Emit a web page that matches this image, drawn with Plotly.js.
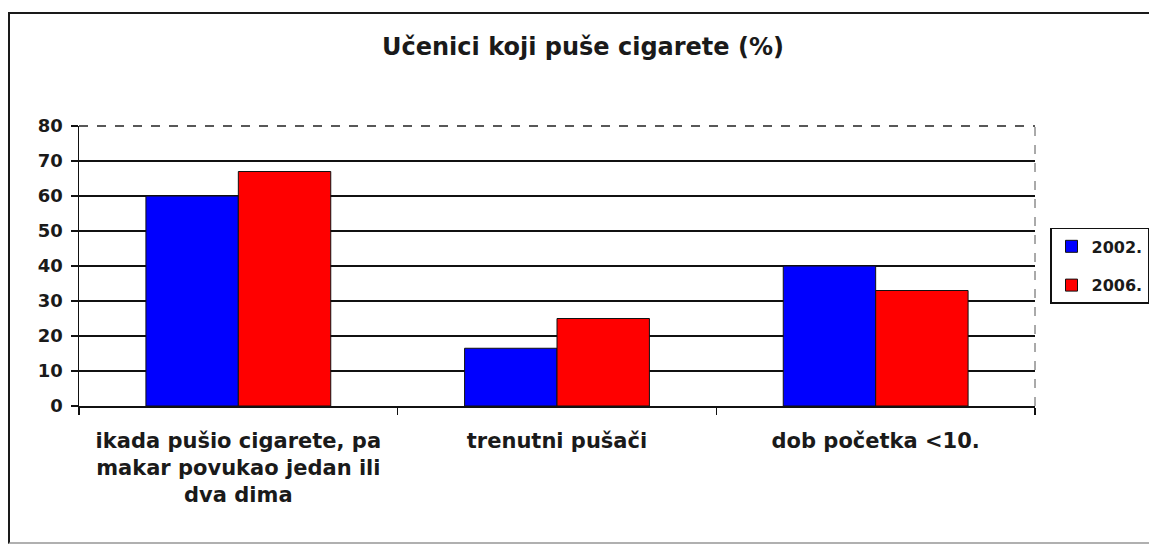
<!DOCTYPE html>
<html>
<head>
<meta charset="utf-8">
<script src="https://cdn.plot.ly/plotly-3.0.1.min.js"></script>
<style>
  html, body { margin: 0; padding: 0; background: #fff; overflow: hidden; }
  #wrap { position: relative; width: 1149px; height: 545px; overflow: hidden; }
  #chart { width: 1149px; height: 545px; }
  #frame { position: absolute; left: 8px; top: 12px; width: 1200px; height: 528px;
           border-left: 2px solid #1a1a1a; border-top: 2px solid #1a1a1a;
           border-bottom: 2px solid #b0b0b0; pointer-events: none; }
</style>
</head>
<body>
<div id="wrap">
  <div id="chart"></div>
  <div id="frame"></div>
</div>
<script>
const categories = [
  "ikada pušio cigarete, pa<br>makar povukao jedan ili<br>dva dima",
  "trenutni pušači",
  "dob početka <10."
];
const seriesNames = ["2002.", "2006."];
const values2002 = [60, 16.5, 40];
const values2006 = [67, 25, 33];
const yTicks = [0, 10, 20, 30, 40, 50, 60, 70, 80];
const chartTitle = "Učenici koji puše cigarete (%)";

const FONT = "DejaVu Sans, Arial, sans-serif";
const ink = "#1a1a1a";

const traces = [
  {
    type: "bar", name: seriesNames[0], x: categories, y: values2002,
    legendgroup: "a",
    marker: { color: "#0000ff", line: { color: "#111", width: 1 } },
    hoverinfo: "skip"
  },
  {
    type: "bar", name: seriesNames[1], x: categories, y: values2006,
    legendgroup: "b",
    marker: { color: "#ff0000", line: { color: "#111", width: 1 } },
    hoverinfo: "skip"
  }
];

const layout = {
  width: 1149, height: 545,
  paper_bgcolor: "rgba(0,0,0,0)", plot_bgcolor: "#fff",
  margin: { l: 79, r: 114, t: 126, b: 139, pad: 0, autoexpand: false },
  font: { family: FONT, color: ink, size: 17, weight: "bold" },
  title: {
    text: "<b>" + chartTitle + "</b>",
    font: { family: FONT, size: 24, color: ink },
    x: 583 / 1149, xanchor: "center", xref: "container",
    y: 1 - 47 / 545, yanchor: "middle", yref: "container"
  },
  barmode: "group", bargap: 0.42, bargroupgap: 0,
  showlegend: true,
  legend: {
    x: 1.0157, xanchor: "left", y: 0.636, yanchor: "top",
    bgcolor: "#fff", bordercolor: "#111", borderwidth: 1.5,
    font: { family: FONT, size: 16, color: ink, weight: "bold" },
    traceorder: "grouped", tracegroupgap: 15
  },
  xaxis: {
    type: "category", tickson: "boundaries",
    ticks: "outside", ticklen: 7, tickwidth: 1.5, tickcolor: "#111",
    showline: true, linecolor: "#111", linewidth: 1.5,
    showgrid: false, zeroline: false, fixedrange: true,
    ticklabelstandoff: 15,
    tickfont: { family: FONT, size: 21, color: ink, weight: "bold" }
  },
  yaxis: {
    range: [0, 80], tickvals: yTicks, ticktext: yTicks.map(String),
    ticks: "outside", ticklen: 7, tickwidth: 1.5, tickcolor: "#111",
    showline: true, linecolor: "#111", linewidth: 1.5,
    showgrid: true, gridcolor: "#111", gridwidth: 1.5,
    zeroline: false, fixedrange: true,
    ticklabelstandoff: 4,
    tickfont: { family: FONT, size: 18, color: ink, weight: "bold" }
  },
  shapes: [
    { type: "line", xref: "paper", yref: "paper", x0: 0.002, x1: 1, y0: 1, y1: 1,
      line: { color: "#fff", width: 3 }, layer: "above" },
    { type: "line", xref: "paper", yref: "paper", x0: 0, x1: 1, y0: 1, y1: 1,
      line: { color: "#222", width: 1.5, dash: "dash" }, layer: "above" },
    { type: "line", xref: "paper", yref: "paper", x0: 1, x1: 1, y0: 0, y1: 1,
      line: { color: "#555", width: 1, dash: "dash" }, layer: "above" }
  ]
};

Plotly.newPlot("chart", traces, layout, { displayModeBar: false, staticPlot: true });
</script>
</body>
</html>
